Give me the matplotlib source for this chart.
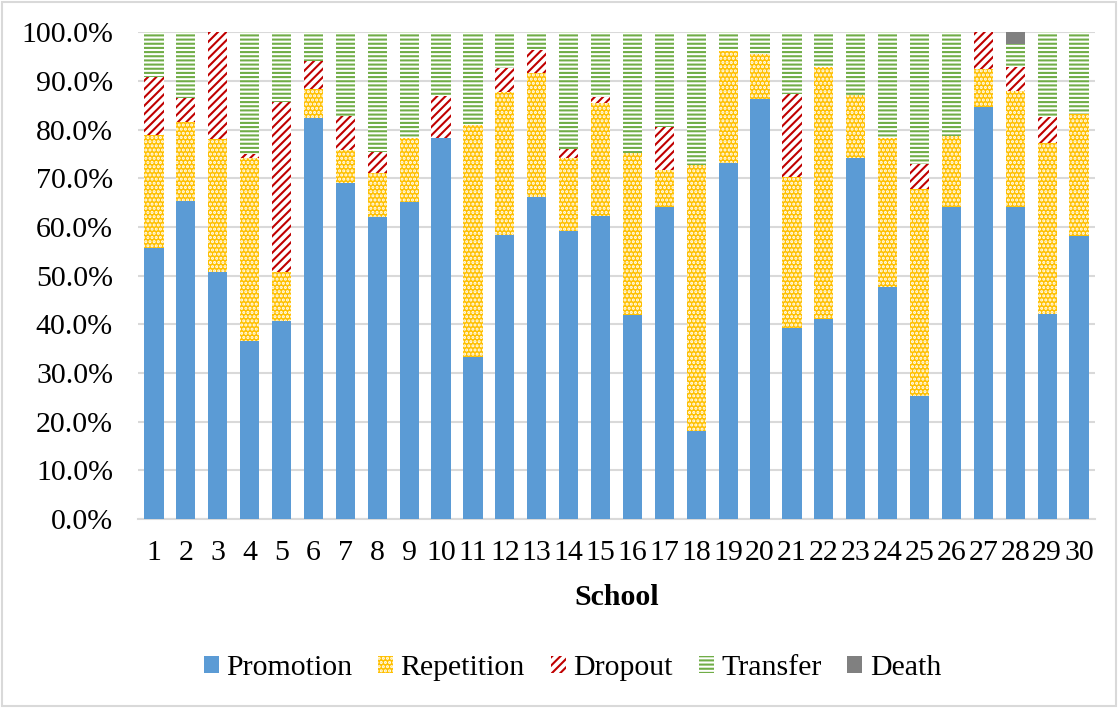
import matplotlib
matplotlib.use("Agg")
import matplotlib.pyplot as plt
from matplotlib.patches import Rectangle
import numpy as np

schools = [str(i) for i in range(1, 31)]
promotion = [55.7, 65.3, 50.8, 36.6, 40.7, 82.4, 69.0, 62.1, 65.2, 78.2,
             33.2, 58.4, 66.2, 59.2, 62.3, 42.0, 64.2, 18.1, 73.1, 86.3,
             39.3, 41.1, 74.2, 47.7, 25.3, 64.2, 84.6, 64.2, 42.1, 58.2]
repetition = [23.3, 16.2, 27.3, 37.6, 10.1, 5.9, 6.8, 8.9, 13.0, 0.0,
              47.8, 29.4, 25.4, 14.9, 23.1, 33.3, 7.5, 54.6, 23.1, 9.3,
              30.9, 51.8, 13.0, 30.5, 42.5, 14.4, 7.8, 23.8, 35.1, 25.0]
dropout = [11.8, 5.1, 21.9, 0.8, 34.9, 5.9, 7.0, 4.5, 0.0, 8.7,
           0.0, 4.8, 4.8, 1.9, 1.4, 0.0, 8.9, 0.0, 0.0, 0.0,
           17.2, 0.0, 0.0, 0.0, 5.1, 0.0, 7.6, 4.9, 5.3, 0.0]
transfer = [9.2, 13.4, 0.0, 25.0, 14.3, 5.8, 17.2, 24.5, 21.8, 13.1,
            19.0, 7.4, 3.6, 24.0, 13.2, 24.7, 19.4, 27.3, 3.8, 4.4,
            12.6, 7.1, 12.8, 21.8, 27.1, 21.4, 0.0, 4.7, 17.5, 16.8]
death = [0.0] * 27 + [2.4] + [0.0, 0.0]

plt.rcParams['font.family'] = ['Liberation Serif', 'DejaVu Serif']
plt.rcParams['hatch.linewidth'] = 1.5

FS = 21.5
W, H = 1118, 708
fig = plt.figure(figsize=(W / 100, H / 100), dpi=100)
ax = fig.add_axes([138 / W, 1 - 519 / H, (1095 - 138) / W, (519 - 32.3) / H])

x = np.arange(1, 31)
bw = 0.6
series = [
    ("Promotion", promotion, dict(color="#5B9BD5")),
    ("Repetition", repetition, dict(facecolor="#FFC000", edgecolor="white", hatch="....")),
    ("Dropout", dropout, dict(facecolor="white", edgecolor="#C00000", hatch="////")),
    ("Transfer", transfer, dict(facecolor="white", edgecolor="#70AD47", hatch="----")),
    ("Death", death, dict(color="#808080")),
]
bottom = np.zeros(30)
handles = []
for name, vals, style in series:
    vals = np.array(vals, dtype=float)
    b = ax.bar(x, vals, bw, bottom=bottom, linewidth=0, label=name, zorder=3, **style)
    bottom += vals
    handles.append(b)

ax.set_xlim(0.5, 30.5)
ax.set_ylim(0, 100)
ax.set_yticks(np.arange(0, 101, 10))
ax.set_yticklabels([f"{v:.1f}%" for v in range(0, 101, 10)])
ax.set_xticks(x)
ax.set_xticklabels(schools)
ax.grid(axis='y', color='#D9D9D9', linewidth=1.5, zorder=0)
ax.set_axisbelow(True)
for s in ['top', 'right', 'left']:
    ax.spines[s].set_visible(False)
ax.spines['bottom'].set_color('#D9D9D9')
ax.spines['bottom'].set_linewidth(1.5)
ax.tick_params(axis='both', length=0, labelsize=FS)
ax.tick_params(axis='y', pad=18)
ax.tick_params(axis='x', pad=15)
ax.set_xlabel("School", fontsize=FS, fontweight='bold', labelpad=13)

fig.legend(handles=handles, loc='center', bbox_to_anchor=(0.512, 1 - 668 / H),
           ncol=5, frameon=False, fontsize=FS, handlelength=0.5, handleheight=0.5,
           handletextpad=0.25, columnspacing=0.87)

fig.patches.append(Rectangle((2 / W, 2 / H), 1 - 4 / W, 1 - 4 / H, transform=fig.transFigure,
                             fill=False, edgecolor='#D9D9D9', linewidth=1.5))

fig.savefig("out.png", dpi=100)
